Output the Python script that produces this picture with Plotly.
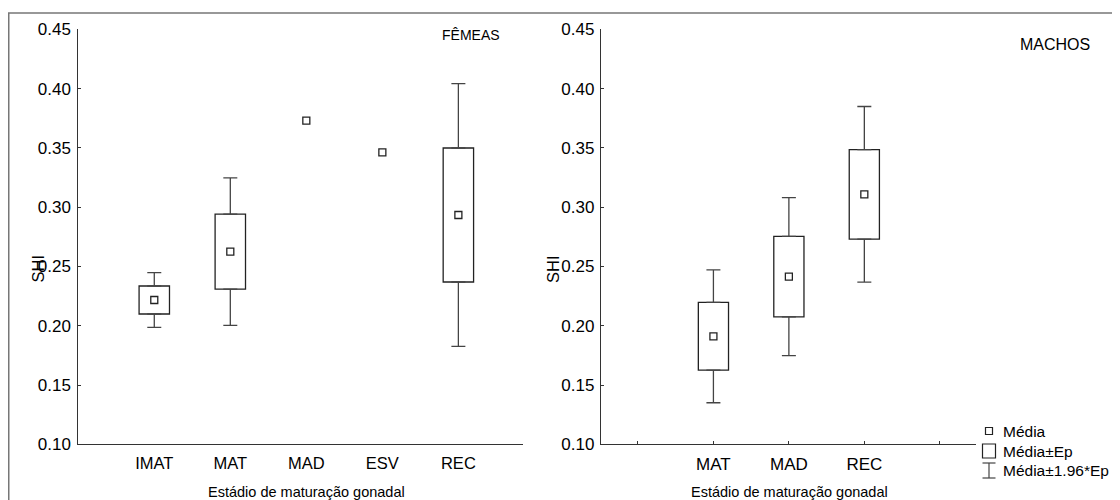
import plotly.graph_objects as go

# ---------------- data ----------------
fem_cats = ["IMAT", "MAT", "MAD", "ESV", "REC"]
fem_mean = [0.2217, 0.2625, 0.3730, 0.3462, 0.2934]
fem_ep = [0.0118, 0.0317, None, None, 0.0565]

mac_cats = ["MAT", "MAD", "REC"]
mac_mean = [0.1911, 0.2414, 0.3108]
mac_ep = [0.0286, 0.0340, 0.0378]

y_ticks = [0.10, 0.15, 0.20, 0.25, 0.30, 0.35, 0.40, 0.45]
legend_labels = ["Média", "Média±Ep", "Média±1.96*Ep"]

W, H = 1120, 500
OFF = 8  # page offset of the plot inside the screenshot
FONT = "Arial"
LINE = "#222222"
WHISK = "#444444"


def px(x):
    return (x - OFF) / W


def py(y):
    return 1 - (y - OFF) / H


fig = go.Figure()


def add_panel(cats, means, eps, xa, ya):
    idx = [i for i, e in enumerate(eps) if e is not None]
    xs = [i for i in idx]
    # whiskers (upper part from box top, lower from box bottom)
    fig.add_trace(go.Scatter(
        x=xs, y=[means[i] + eps[i] for i in idx], mode="markers",
        marker=dict(size=1, opacity=0),
        error_y=dict(type="data", symmetric=False,
                     array=[0.96 * eps[i] for i in idx],
                     arrayminus=[0 for i in idx],
                     color=WHISK, thickness=1.3, width=7),
        xaxis=xa, yaxis=ya, showlegend=False, hoverinfo="skip"))
    fig.add_trace(go.Scatter(
        x=xs, y=[means[i] - eps[i] for i in idx], mode="markers",
        marker=dict(size=1, opacity=0),
        error_y=dict(type="data", symmetric=False,
                     array=[0 for i in idx],
                     arrayminus=[0.96 * eps[i] for i in idx],
                     color=WHISK, thickness=1.3, width=7),
        xaxis=xa, yaxis=ya, showlegend=False, hoverinfo="skip"))
    # boxes mean ± Ep
    fig.add_trace(go.Bar(
        x=xs, y=[2 * eps[i] for i in idx], base=[means[i] - eps[i] for i in idx],
        width=0.40, marker=dict(color="white", line=dict(color=LINE, width=1.3)),
        xaxis=xa, yaxis=ya, showlegend=False, hoverinfo="skip"))
    # means
    fig.add_trace(go.Scatter(
        x=list(range(len(cats))), y=means, mode="markers",
        marker=dict(symbol="square-open", size=7, color=LINE, line=dict(width=1.3)),
        xaxis=xa, yaxis=ya, showlegend=False, hoverinfo="skip"))


add_panel(fem_cats, fem_mean, fem_ep, "x", "y")
add_panel(mac_cats, mac_mean, mac_ep, "x2", "y2")

ydom = [py(444.3), py(29.3)]
yaxis_common = dict(range=[0.10, 0.45], tickvals=y_ticks, tickformat=".2f",
                    ticks="inside", ticklen=3, tickcolor="#333", showline=True,
                    linecolor="#333", linewidth=1.3, showgrid=False, zeroline=False,
                    tickfont=dict(family=FONT, size=17, color="black"),
                    ticklabelstandoff=2, domain=ydom, automargin=False)

fig.update_layout(
    template="none",
    width=W, height=H, margin=dict(l=0, r=0, t=0, b=0, pad=0, autoexpand=False),
    paper_bgcolor="white", plot_bgcolor="white", barmode="overlay",
    showlegend=False,
    xaxis=dict(domain=[px(77.5), px(523)], range=[-1.01, 4.85],
               tickvals=list(range(len(fem_cats))), ticktext=fem_cats,
               ticks="", showline=True, linecolor="#333", linewidth=1.3,
               showgrid=False, zeroline=False, anchor="y", automargin=False,
               tickfont=dict(family=FONT, size=16.5, color="black"), ticklabelstandoff=4),
    yaxis=dict(anchor="x", **yaxis_common),
    xaxis2=dict(domain=[px(601), px(976)], range=[-1.49, 3.48],
                tickvals=[-1, 0, 1, 2, 3], ticktext=[""] + mac_cats + [""],
                ticks="inside", ticklen=3, tickcolor="#333",
                showline=True, linecolor="#333", linewidth=1.3,
                showgrid=False, zeroline=False, anchor="y2", automargin=False,
                tickfont=dict(family=FONT, size=17, color="black"), ticklabelstandoff=4),
    yaxis2=dict(anchor="x2", **yaxis_common),
)

shapes = []
# outer frame
shapes.append(dict(type="rect", xref="paper", yref="paper", x0=px(8.75), x1=1.02,
                   y0=-0.02, y1=py(13), line=dict(color="#777", width=1.5)))

ann = []


def text(x, y, s, size, angle=0, xanchor="center"):
    ann.append(dict(x=px(x), y=py(y), xref="paper", yref="paper", text=s,
                    showarrow=False, textangle=angle, xanchor=xanchor, yanchor="middle",
                    font=dict(family=FONT, size=size, color="black")))


text(471, 35, "FÊMEAS", 14)
text(1054.6, 45, "MACHOS", 16)
text(306, 491.5, "Estádio de maturação gonadal", 14.5)
text(789, 491.5, "Estádio de maturação gonadal", 14.5)
text(37.5, 269, "SHI", 16.5, angle=-90)
text(553, 269, "SHI", 16.5, angle=-90)

# legend
lx = 989
rows = [431, 451, 470.5]
for s, yy in zip(legend_labels, rows):
    text(1001, yy, s, 15.5, xanchor="left")
shapes.append(dict(type="rect", xref="paper", yref="paper",
                   x0=px(lx - 3.5), x1=px(lx + 3.5), y0=py(rows[0] + 3.5), y1=py(rows[0] - 3.5),
                   line=dict(color=LINE, width=1.2)))
shapes.append(dict(type="rect", xref="paper", yref="paper",
                   x0=px(lx - 6.5), x1=px(lx + 6.5), y0=py(rows[1] + 7), y1=py(rows[1] - 7),
                   line=dict(color=LINE, width=1.2)))
shapes.append(dict(type="line", xref="paper", yref="paper",
                   x0=px(lx), x1=px(lx), y0=py(rows[2] + 7.5), y1=py(rows[2] - 7.5),
                   line=dict(color=WHISK, width=1.2)))
for d in (-7.5, 7.5):
    shapes.append(dict(type="line", xref="paper", yref="paper",
                       x0=px(lx - 6.5), x1=px(lx + 6.5), y0=py(rows[2] + d), y1=py(rows[2] + d),
                       line=dict(color=WHISK, width=1.2)))

fig.update_layout(shapes=shapes, annotations=ann)
fig.write_html("out.html")
